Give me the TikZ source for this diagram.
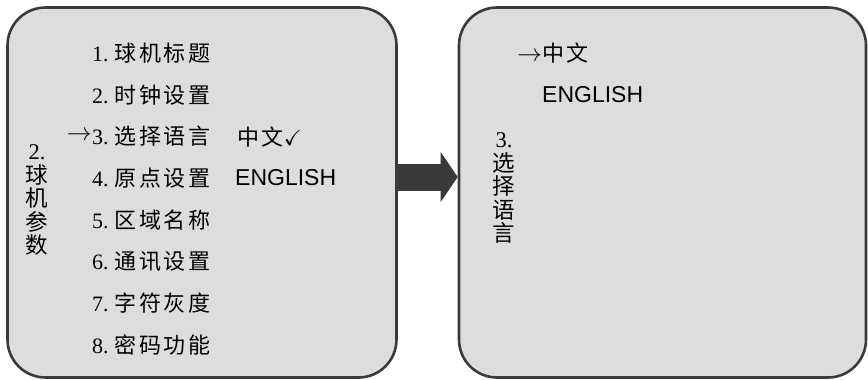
\documentclass[tikz,border=0pt]{standalone}
\usepackage{amssymb}
\usepackage{fontspec}
\setmainfont{Liberation Serif}
\newfontfamily\cjk[LetterSpace=12]{Noto Sans CJK SC}
\newfontfamily\engfont{Liberation Sans}
\usetikzlibrary{arrows.meta}
\definecolor{PanelGray}{HTML}{DDDDDD}
\definecolor{EdgeGray}{HTML}{3A3A3A}
\newcommand{\pointer}{{\fontsize{27}{27}\selectfont$\rightarrow$}}

\begin{document}
\begin{tikzpicture}[x=1pt,y=-1pt,
  panel/.style={draw=EdgeGray,fill=PanelGray,line width=2.6pt,rounded corners=38pt},
  item/.style={anchor=west,inner sep=0pt,font=\fontsize{22}{25}\selectfont},
  eng/.style={anchor=west,inner sep=0pt,font=\engfont\fontsize{23}{27}\selectfont},
  vlabel/.style={align=center,inner sep=0pt,font=\fontsize{22.5}{23.5}\selectfont}]
  \useasboundingbox (0,0) rectangle (868,380);

  % Menu panel
  \node[panel,minimum width=389pt,minimum height=370pt] (menu) at (202,192.5) {};

  % Language panel
  \node[panel,minimum width=407pt,minimum height=370pt] (lang) at (662.5,192.5) {};

  % Big arrow between panels
  \draw[EdgeGray,line width=27pt,-{Triangle[length=17pt,width=50pt,line width=0pt]}]
    ([yshift=15.5pt]menu.east) -- ([yshift=15.5pt]lang.west);

  % Menu items
  \foreach \n/\t in {1/球机标题,2/时钟设置,3/选择语言,4/原点设置,5/区域名称,6/通讯设置,7/字符灰度,8/密码功能}
    \node[item] (item\n) at (92,{53+(\n-1)*41.7}) {\n.\hspace{6pt}{\cjk\t}};
  \node[item,anchor=east] (cursor) at (item3.west) {\pointer};
  \node[item] (zh) at (237,137) {{\cjk 中文}\checkmark};
  \node[eng] (en) at (235,178) {ENGLISH};
  \node[vlabel] (menutitle) at (37,200) {2.\\{\cjk 球}\\{\cjk 机}\\{\cjk 参}\\{\cjk 数}};

  % Language choices
  \node[item] (zhsel) at (517,53) {\pointer{\cjk 中文}};
  \node[eng] (ensel) at (542,95) {ENGLISH};
  \node[vlabel] (langtitle) at (504,188) {3.\\{\cjk 选}\\{\cjk 择}\\{\cjk 语}\\{\cjk 言}};
\end{tikzpicture}
\end{document}
